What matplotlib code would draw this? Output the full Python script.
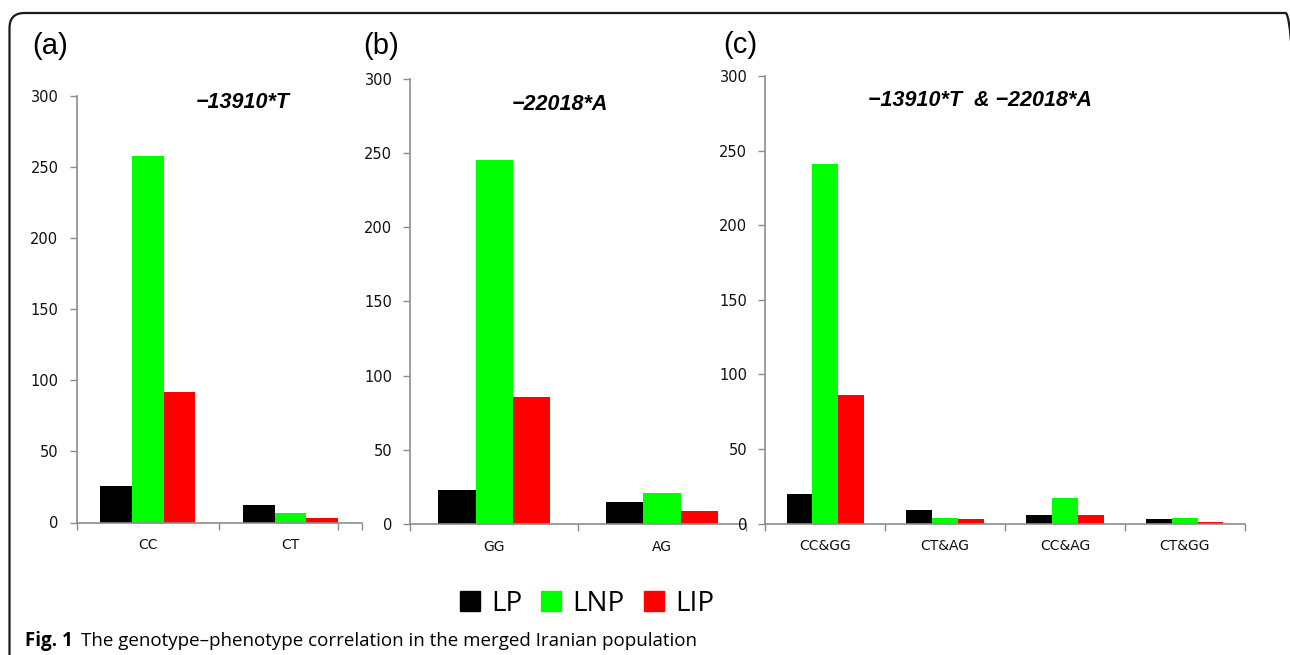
import matplotlib.pyplot as plt
import numpy as np
from matplotlib.patches import FancyBboxPatch, Patch

# data
groups = ['LP', 'LNP', 'LIP']
colors = ['#000000', '#00ff00', '#ff0000']

cats_a = ['CC', 'CT']
vals_a = {'LP': [26, 12], 'LNP': [258, 7], 'LIP': [92, 3]}

cats_b = ['GG', 'AG']
vals_b = {'LP': [23, 15], 'LNP': [245, 21], 'LIP': [86, 9]}

cats_c = ['CC&GG', 'CT&AG', 'CC&AG', 'CT&GG']
vals_c = {'LP': [20, 9, 6, 3], 'LNP': [241, 4, 17, 4], 'LIP': [86, 3, 6, 1]}

titles = ['\u221213910*T', '\u221222018*A', '\u221213910*T  & \u221222018*A']
panel_labels = ['(a)', '(b)', '(c)']

W, H = 1290, 655
fig = plt.figure(figsize=(W / 100, H / 100), dpi=100)


def px_axes(left, right, y0, ytop):
    return fig.add_axes([left / W, 1 - y0 / H, (right - left) / W, (y0 - ytop) / H])


axis_col = '#8c8c8c'


def draw_panel(ax, cats, vals, width, xmax):
    x = np.arange(len(cats))
    for i, g in enumerate(groups):
        ax.bar(x + (i - 1) * width, vals[g], width, color=colors[i], label=g)
    ax.set_xlim(-0.5, xmax)
    ax.set_ylim(0, 300)
    ax.set_yticks(range(0, 301, 50))
    # category labels centred, boundary ticks
    ax.set_xticks(x)
    ax.set_xticklabels(cats)
    ax.tick_params(axis='x', length=0, pad=11, labelsize=10)
    bounds = list(np.arange(-0.5, len(cats) - 0.5 + 0.01, 1.0))
    if xmax not in bounds:
        bounds.append(xmax)
    ax.set_xticks(bounds, minor=True)
    ax.tick_params(axis='x', which='minor', length=5, direction='out', color=axis_col, width=1)
    ax.tick_params(axis='y', length=5, direction='out', color=axis_col, width=1, pad=8, labelsize=10.5)
    for s in ['top', 'right']:
        ax.spines[s].set_visible(False)
    for s in ['left', 'bottom']:
        ax.spines[s].set_color(axis_col)
        ax.spines[s].set_linewidth(1.2)
    for lab in ax.get_xticklabels() + ax.get_yticklabels():
        lab.set_color('#111111')


ax_a = px_axes(76.5, 362, 522.5, 96.4)
draw_panel(ax_a, cats_a, vals_a, 0.222, 1.33)
ax_b = px_axes(410.4, 746, 524.3, 78.6)
draw_panel(ax_b, cats_b, vals_b, 0.222, 1.5)
ax_c = px_axes(765.4, 1244.6, 523.6, 76.1)
draw_panel(ax_c, cats_c, vals_c, 0.215, 3.5)

# panel titles and letters
for (tx, ty), t in zip([(243, 103), (560, 104), (980, 100)], titles):
    fig.text(tx / W, 1 - ty / H, t, ha='center', va='center', fontsize=15.5,
             fontweight='bold', fontstyle='italic', family='Liberation Sans')
for (tx, ty), t in zip([(50, 46), (381, 46), (740, 45)], panel_labels):
    fig.text(tx / W, 1 - ty / H, t, ha='center', va='center', fontsize=21,
             family='Liberation Sans')

# legend
handles = [Patch(color=c, label=g) for g, c in zip(groups, colors)]
fig.legend(handles=handles, loc='center', bbox_to_anchor=(587 / W, 1 - 604 / H), ncol=3,
           frameon=False, handlelength=0.72, handleheight=0.72, handletextpad=0.4,
           columnspacing=0.7, prop={'family': 'Open Sans', 'size': 20})

# caption
fig.text(25 / W, 1 - 646 / H, 'Fig. 1', ha='left', va='baseline', fontsize=13.5,
         fontweight='bold', family='Open Sans')
fig.text(81 / W, 1 - 646 / H, 'The genotype\u2013phenotype correlation in the merged Iranian population',
         ha='left', va='baseline', fontsize=13.5, family='Open Sans')

# rounded frame (right side runs off the picture)
frame = FancyBboxPatch((0.095, -0.3), 12.91, 6.42 + 0.3, boxstyle='round,pad=0,rounding_size=0.15',
                       transform=fig.dpi_scale_trans, fill=False, edgecolor='#1a1a1a', linewidth=1.6)
fig.patches.append(frame)

fig.savefig('out.png', dpi=100)
